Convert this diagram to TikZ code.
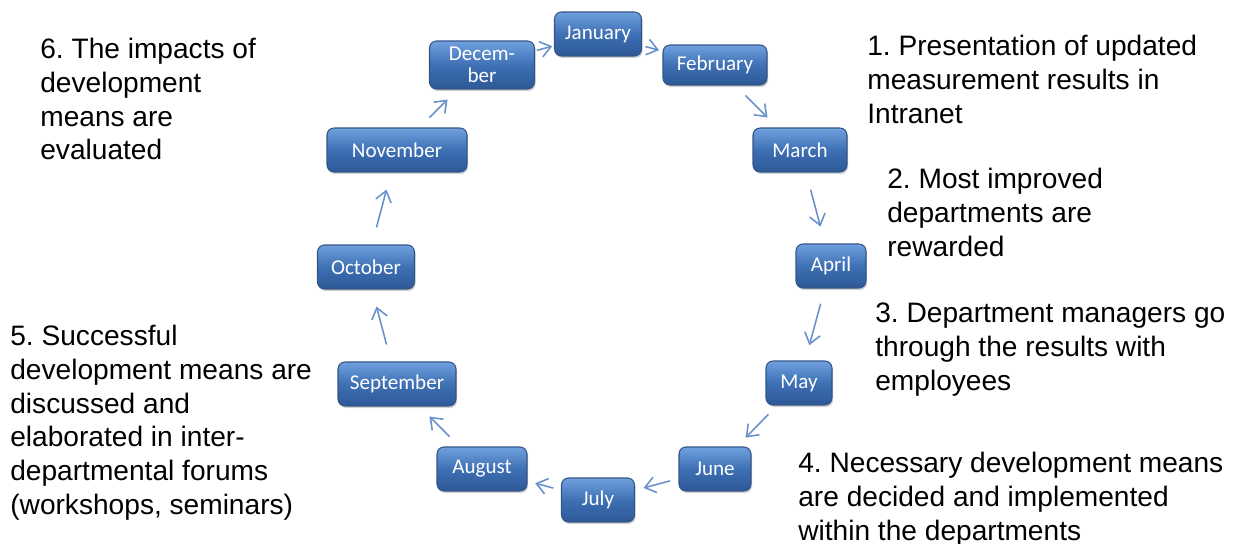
\documentclass[tikz,border=0pt]{standalone}
\usepackage{fontspec}
\setmainfont{Liberation Sans}
\newfontfamily\boxfont{Carlito}
\frenchspacing
\usetikzlibrary{arrows.meta,shadows}
\tikzset{>={Straight Barb[length=6pt,width=9pt]}}
\definecolor{boxtop}{RGB}{112,160,222}
\definecolor{boxmid}{RGB}{62,112,180}
\definecolor{boxbot}{RGB}{45,88,150}
\definecolor{boxline}{RGB}{50,85,135}
\definecolor{flowblue}{RGB}{105,146,204}
\tikzset{
  month/.style={rounded corners=4pt, draw=boxline, line width=0.6pt,
    top color=boxtop, bottom color=boxbot, middle color=boxmid,
    text=white, font=\boxfont\fontsize{12}{12.5}\selectfont,
    minimum height=0.88cm, inner sep=2pt, align=center,
    drop shadow={shadow xshift=0.6pt, shadow yshift=-1.2pt, opacity=0.35}},
  note/.style={anchor=north west, inner sep=0pt, align=left,
    font=\fontsize{16}{19.2}\selectfont},
  flow/.style={->, flowblue, line width=0.9pt}
}

\begin{document}
\begin{tikzpicture}[x=0.02cm, y=-0.02cm]
  \useasboundingbox (0,0) rectangle (1245,544);
  % months
  \node[month, minimum width=1.74cm] (jan) at (598,34)  {January};
  \node[month, minimum width=2.08cm, minimum height=0.80cm] (feb) at (715,65) {February};
  \node[month, minimum width=1.88cm] (mar) at (800,150) {March};
  \node[month, minimum width=1.40cm] (apr) at (831,266) {April};
  \node[month, minimum width=1.32cm] (may) at (799,383) {May};
  \node[month, minimum width=1.44cm] (jun) at (715,469) {June};
  \node[month, minimum width=1.46cm] (jul) at (598,500) {July};
  \node[month, minimum width=1.80cm] (aug) at (482,469) {August};
  \node[month, minimum width=2.36cm] (sep) at (397,384) {September};
  \node[month, minimum width=1.94cm] (oct) at (366,267) {October};
  \node[month, minimum width=2.80cm] (nov) at (397,150) {November};
  \node[month, minimum width=2.10cm, minimum height=0.96cm] (dec) at (482,65) {Decem-\\ber};
  % arrows
  \foreach \a/\b/\s in {dec/jan/1pt, jan/feb/2pt, feb/mar/8pt, mar/apr/10pt,
                        apr/may/9pt, may/jun/7pt, jun/jul/5pt, jul/aug/4.5pt,
                        aug/sep/8pt, sep/oct/10pt, oct/nov/10pt, nov/dec/8pt}
    \draw[flow, shorten <=\s, shorten >=\s] (\a) -- (\b);
  % notes
  \node[note] (n1) at (867,35)  {1. Presentation of updated\\measurement results in\\Intranet};
  \node[note] (n2) at (887,168) {2. Most improved\\departments are\\rewarded};
  \node[note] (n3) at (875,303) {3. Department managers go\\through the results with\\employees};
  \node[note] (n4) at (798,452) {4. Necessary development means\\are decided and implemented\\within the departments};
  \node[note] (n5) at (10,325)  {5. Successful\\development means are\\discussed and\\elaborated in inter-\\departmental forums\\(workshops, seminars)};
  \node[note] (n6) at (40,38)   {6. The impacts of\\development\\means are\\evaluated};
\end{tikzpicture}
\end{document}
